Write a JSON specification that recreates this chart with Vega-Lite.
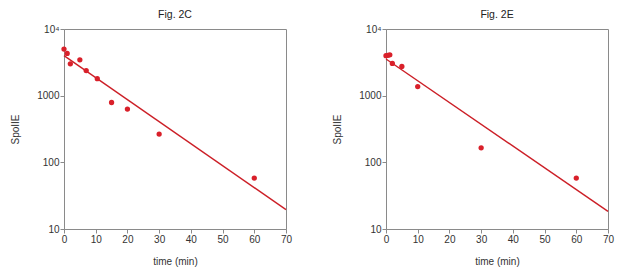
{
  "$schema": "https://vega.github.io/schema/vega-lite/v6.json",
  "padding": {"left": 10, "top": 9, "right": 0, "bottom": 0},
  "background": "white",
  "spacing": 100,
  "bounds": "flush",
  "datasets": {
    "c_pts": [
      {"t": 0, "v": 5000},
      {"t": 1, "v": 4300},
      {"t": 2, "v": 3000},
      {"t": 5, "v": 3450},
      {"t": 7, "v": 2380},
      {"t": 10.5, "v": 1800},
      {"t": 15, "v": 790},
      {"t": 20, "v": 630},
      {"t": 30, "v": 265},
      {"t": 60, "v": 58}
    ],
    "c_fit": [
      {"t": 0, "v": 3980},
      {"t": 70, "v": 19.5}
    ],
    "e_pts": [
      {"t": 0, "v": 3980},
      {"t": 0.6, "v": 4030},
      {"t": 1.2, "v": 4100},
      {"t": 2, "v": 3050},
      {"t": 5, "v": 2750},
      {"t": 10, "v": 1370},
      {"t": 30, "v": 165},
      {"t": 60, "v": 58}
    ],
    "e_fit": [
      {"t": 0, "v": 3550},
      {"t": 70, "v": 18.4}
    ]
  },
  "config": {
    "font": "Liberation Sans",
    "view": {"stroke": "#8a8a8a", "strokeWidth": 1},
    "axis": {
      "grid": false,
      "domainColor": "#8a8a8a",
      "tickColor": "#8a8a8a",
      "tickSize": 4,
      "labelFontSize": 10,
      "labelColor": "#333333",
      "labelFont": "Liberation Sans",
      "titleFont": "Liberation Sans",
      "titleFontSize": 10,
      "titleFontWeight": "normal",
      "titleColor": "#333333",
      "labelPadding": 1,
      "labelOverlap": false,
      "labelFlush": false
    },
    "title": {"fontSize": 10.5, "fontWeight": "normal", "color": "#222222", "font": "Liberation Sans", "offset": 4}
  },
  "hconcat": [
    {
      "title": "Fig. 2C",
      "width": 222,
      "height": 200,
      "encoding": {
        "x": {"field": "t", "type": "quantitative", "scale": {"domain": [0, 70]}, "axis": {"values": [0,10,20,30,40,50,60,70], "labelOverlap": false, "title": "time (min)", "titlePadding": 12}},
        "y": {"field": "v", "type": "quantitative", "scale": {"type": "log", "domain": [10, 10000]}, "axis": {"values": [10,100,1000,10000], "labelExpr": "datum.value == 10000 ? '10⁴' : format(datum.value, 'd')", "title": "SpoIIE", "titlePadding": 16}}
      },
      "layer": [
        {
          "data": {"name": "c_fit"},
          "mark": {"type": "line", "color": "#cc1f27", "strokeWidth": 1.4}
        },
        {
          "data": {"name": "c_pts"},
          "mark": {"type": "circle", "color": "#d9202a", "opacity": 1, "size": 28}
        }
      ]
    },
    {
      "title": "Fig. 2E",
      "width": 222,
      "height": 200,
      "encoding": {
        "x": {"field": "t", "type": "quantitative", "scale": {"domain": [0, 70]}, "axis": {"values": [0,10,20,30,40,50,60,70], "labelOverlap": false, "title": "time (min)", "titlePadding": 12}},
        "y": {"field": "v", "type": "quantitative", "scale": {"type": "log", "domain": [10, 10000]}, "axis": {"values": [10,100,1000,10000], "labelExpr": "datum.value == 10000 ? '10⁴' : format(datum.value, 'd')", "title": "SpoIIE", "titlePadding": 16}}
      },
      "layer": [
        {
          "data": {"name": "e_fit"},
          "mark": {"type": "line", "color": "#cc1f27", "strokeWidth": 1.4}
        },
        {
          "data": {"name": "e_pts"},
          "mark": {"type": "circle", "color": "#d9202a", "opacity": 1, "size": 28}
        }
      ]
    }
  ],
  "resolve": {"scale": {"x": "independent", "y": "independent"}}
}
